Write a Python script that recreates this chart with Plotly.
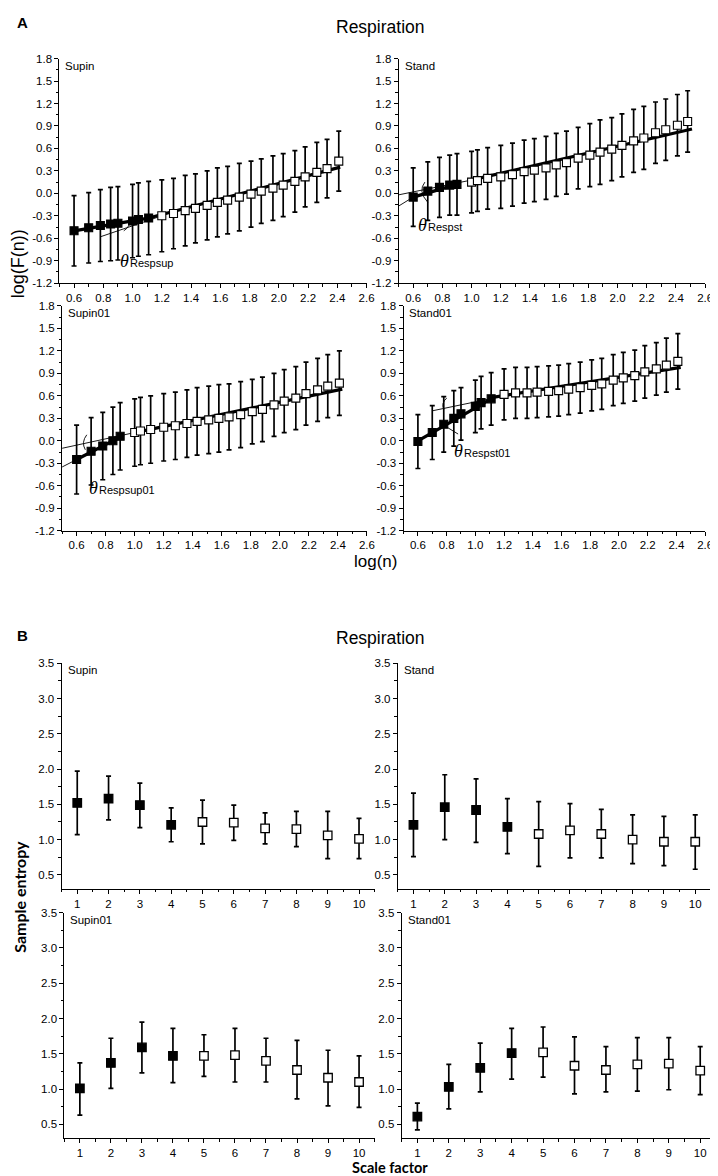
import plotly.graph_objects as go

W, H = 718, 1176

# ---------------- Panel A: DFA, log(F(n)) vs log(n) ----------------
logn = [0.60, 0.70, 0.78, 0.85, 0.90, 1.00, 1.04, 1.11, 1.20, 1.28, 1.36, 1.43, 1.51,
        1.58, 1.65, 1.73, 1.81, 1.88, 1.96, 2.03, 2.11, 2.18, 2.26, 2.33, 2.41]
logn_stand = logn + [2.48]

supin_y = [-0.50, -0.46, -0.43, -0.41, -0.40, -0.37, -0.35, -0.33, -0.30, -0.27, -0.23, -0.20, -0.16,
           -0.12, -0.09, -0.05, -0.01, 0.03, 0.07, 0.11, 0.16, 0.22, 0.28, 0.33, 0.43]
supin_e = [0.47, 0.47, 0.48, 0.49, 0.49, 0.49, 0.49, 0.49, 0.48, 0.47, 0.47, 0.46, 0.46,
           0.46, 0.45, 0.45, 0.44, 0.43, 0.43, 0.42, 0.41, 0.40, 0.40, 0.39, 0.40]
supin_nfilled = 8

stand_y = [-0.05, 0.03, 0.08, 0.11, 0.12, 0.15, 0.17, 0.20, 0.22, 0.25, 0.29, 0.31, 0.34,
           0.38, 0.41, 0.47, 0.51, 0.55, 0.59, 0.64, 0.70, 0.74, 0.81, 0.85, 0.91, 0.96]
stand_e = [0.39, 0.39, 0.40, 0.40, 0.41, 0.41, 0.41, 0.41, 0.42, 0.42, 0.42, 0.42, 0.42,
           0.42, 0.42, 0.41, 0.42, 0.43, 0.42, 0.42, 0.42, 0.42, 0.41, 0.41, 0.41, 0.41]
stand_nfilled = 5

supin01_y = [-0.25, -0.14, -0.07, 0.00, 0.06, 0.11, 0.13, 0.15, 0.18, 0.20, 0.23, 0.26, 0.28,
             0.30, 0.32, 0.35, 0.39, 0.42, 0.48, 0.53, 0.57, 0.63, 0.68, 0.73, 0.77]
supin01_e = [0.46, 0.45, 0.45, 0.45, 0.45, 0.45, 0.45, 0.45, 0.45, 0.45, 0.45, 0.45, 0.45,
             0.45, 0.44, 0.44, 0.43, 0.43, 0.42, 0.42, 0.42, 0.42, 0.42, 0.42, 0.43]
supin01_nfilled = 5

stand01_y = [-0.01, 0.11, 0.22, 0.30, 0.36, 0.46, 0.51, 0.56, 0.62, 0.64, 0.64, 0.65, 0.66,
             0.67, 0.69, 0.71, 0.74, 0.76, 0.81, 0.84, 0.87, 0.92, 0.96, 1.01, 1.06]
stand01_e = [0.36, 0.36, 0.37, 0.37, 0.35, 0.35, 0.35, 0.35, 0.34, 0.34, 0.34, 0.34, 0.34,
             0.34, 0.34, 0.34, 0.34, 0.34, 0.34, 0.34, 0.34, 0.35, 0.35, 0.36, 0.37]
stand01_nfilled = 8

# fitted scaling lines: [x_start, x_end, y_start, y_end]
supin_fit_thick = [[0.60, 1.11, -0.50, -0.33], [1.11, 2.42, -0.33, 0.35]]
supin_fit_thin = [[0.78, 1.20, -0.58, -0.30]]
stand_fit_thick = [[0.60, 0.90, -0.05, 0.12], [0.98, 2.51, 0.17, 0.86]]
stand_fit_thin = [[0.50, 0.60, -0.17, -0.05], [0.50, 0.98, -0.02, 0.17]]
supin01_fit_thick = [[0.60, 0.91, -0.25, 0.06], [1.00, 2.43, 0.11, 0.69]]
supin01_fit_thin = [[0.50, 0.60, -0.35, -0.25], [0.50, 1.00, -0.10, 0.11]]
stand01_fit_thick = [[0.60, 1.12, 0.00, 0.57], [1.12, 2.43, 0.58, 0.98]]
stand01_fit_thin = [[0.70, 1.20, 0.40, 0.60], [0.77, 0.88, 0.22, 0.09]]

a_xticks = [0.6, 0.8, 1.0, 1.2, 1.4, 1.6, 1.8, 2.0, 2.2, 2.4, 2.6]
a_xticklabels = ["0.6", "0.8", "1.0", "1.2", "1.4", "1.6", "1.8", "2.0", "2.2", "2.4", "2.6"]
a_yticks = [-1.2, -0.9, -0.6, -0.3, 0.0, 0.3, 0.6, 0.9, 1.2, 1.5, 1.8]
a_yticklabels = ["-1.2", "-0.9", "-0.6", "-0.3", "0.0", "0.3", "0.6", "0.9", "1.2", "1.5", "1.8"]

# ---------------- Panel B: sample entropy vs scale factor ----------------
scale = [1, 2, 3, 4, 5, 6, 7, 8, 9, 10]
b_supin_y = [1.52, 1.58, 1.49, 1.21, 1.25, 1.24, 1.16, 1.15, 1.06, 1.01]
b_supin_hi = [1.97, 1.90, 1.80, 1.45, 1.56, 1.49, 1.38, 1.40, 1.40, 1.30]
b_supin_lo = [1.07, 1.28, 1.17, 0.97, 0.94, 0.99, 0.94, 0.90, 0.73, 0.73]
b_stand_y = [1.21, 1.46, 1.42, 1.18, 1.08, 1.13, 1.08, 1.00, 0.97, 0.97]
b_stand_hi = [1.66, 1.92, 1.86, 1.58, 1.54, 1.51, 1.43, 1.35, 1.33, 1.35]
b_stand_lo = [0.76, 1.00, 0.96, 0.80, 0.62, 0.74, 0.74, 0.66, 0.63, 0.58]
b_supin01_y = [1.01, 1.37, 1.59, 1.47, 1.47, 1.48, 1.40, 1.27, 1.16, 1.10]
b_supin01_hi = [1.37, 1.72, 1.95, 1.86, 1.77, 1.86, 1.72, 1.69, 1.55, 1.47]
b_supin01_lo = [0.63, 1.01, 1.23, 1.09, 1.18, 1.10, 1.10, 0.86, 0.76, 0.74]
b_stand01_y = [0.61, 1.03, 1.30, 1.51, 1.52, 1.33, 1.27, 1.35, 1.36, 1.26]
b_stand01_hi = [0.80, 1.35, 1.65, 1.86, 1.88, 1.74, 1.60, 1.73, 1.73, 1.60]
b_stand01_lo = [0.42, 0.72, 0.96, 1.14, 1.17, 0.93, 0.96, 0.97, 0.99, 0.92]
b_nfilled = 4

b_xticks = [1, 2, 3, 4, 5, 6, 7, 8, 9, 10]
b_xticklabels = ["1", "2", "3", "4", "5", "6", "7", "8", "9", "10"]
b_yticks = [0.5, 1.0, 1.5, 2.0, 2.5, 3.0, 3.5]
b_yticklabels = ["0.5", "1.0", "1.5", "2.0", "2.5", "3.0", "3.5"]

FONT = "Arial, Liberation Sans, sans-serif"
fig = go.Figure()


def px_x(a, b):
    return [a / W, b / W]


def px_y(top, bottom):
    return [1 - bottom / H, 1 - top / H]


def axis_style(dom, rng, tv, tt, minor_dtick, minor_t0):
    return dict(domain=dom, range=rng, tickmode="array", tickvals=tv, ticktext=tt,
                ticks="outside", ticklen=4, tickwidth=1, tickcolor="black",
                showline=True, linecolor="black", linewidth=1, showgrid=False, zeroline=False,
                tickfont=dict(family=FONT, size=11.5, color="black"),
                minor=dict(ticks="outside", ticklen=2.5, tickwidth=1, tickcolor="black",
                           tickmode="linear", dtick=minor_dtick, tick0=minor_t0, showgrid=False),
                fixedrange=True)


axn = [0]


def add_axes(xdom, ydom, xr, yr, xtv, xtt, ytv, ytt, xminor, xm0, yminor, ym0):
    axn[0] += 1
    i = axn[0]
    sfx = "" if i == 1 else str(i)
    xs = axis_style(xdom, xr, xtv, xtt, xminor, xm0)
    ys = axis_style(ydom, yr, ytv, ytt, yminor, ym0)
    xs["anchor"] = "y" + sfx
    ys["anchor"] = "x" + sfx
    fig.update_layout(**{"xaxis" + sfx: xs, "yaxis" + sfx: ys})
    return "x" + sfx, "y" + sfx


def marker_colors(n, nfilled):
    return ["black" if k < nfilled else "white" for k in range(n)]


# ---- Panel A subplots ----
A_panels = [
    ("Supin", logn, supin_y, supin_e, supin_nfilled, supin_fit_thick, supin_fit_thin,
     (52, 362.6), (45, 272)),
    ("Stand", logn_stand, stand_y, stand_e, stand_nfilled, stand_fit_thick, stand_fit_thin,
     (395, 705), (45, 272)),
    ("Supin01", logn, supin01_y, supin01_e, supin01_nfilled, supin01_fit_thick, supin01_fit_thin,
     (54.7, 363), (295, 522)),
    ("Stand01", logn, stand01_y, stand01_e, stand01_nfilled, stand01_fit_thick, stand01_fit_thin,
     (400, 705), (295, 522)),
]

A_refs = []
for name, xs, ys, es, nf, thick, thin, xp, yp in A_panels:
    xr, yr = add_axes(px_x(*xp), px_y(*yp), [0.5, 2.6], [-1.2, 1.8],
                      a_xticks, a_xticklabels, a_yticks, a_yticklabels, 0.1, 0.5, 0.15, -1.2)
    A_refs.append((xr, yr))
    for seg in thin:
        fig.add_trace(go.Scatter(x=seg[:2], y=seg[2:], mode="lines", xaxis=xr, yaxis=yr,
                                 line=dict(color="black", width=0.9), showlegend=False, hoverinfo="skip"))
    for seg in thick:
        fig.add_trace(go.Scatter(x=seg[:2], y=seg[2:], mode="lines", xaxis=xr, yaxis=yr,
                                 line=dict(color="black", width=3.2), showlegend=False, hoverinfo="skip"))
    fig.add_trace(go.Scatter(
        x=xs, y=ys, mode="markers", xaxis=xr, yaxis=yr, showlegend=False,
        marker=dict(symbol="square", size=8, color=marker_colors(len(xs), nf),
                    line=dict(color="black", width=1.1)),
        error_y=dict(type="data", array=es, symmetric=True, color="black", thickness=1.7, width=2.5)))
    fig.add_annotation(x=(xp[0] + 4) / W, y=1 - (yp[0] - 1) / H, xref="paper", yref="paper",
                       text=name, showarrow=False, xanchor="left", yanchor="top",
                       font=dict(family=FONT, size=11.5, color="black"))

# angle marks (arc decorations) and theta labels
theta_labels = [
    ("Respsup", 0.90, -0.90),
    ("Respst", 0.62, -0.42),
    ("Respsup01", 0.67, -0.63),
    ("Respst01", 0.84, -0.13),
]
arc_paths = [
    [(0.94, -0.50), (0.99, -0.44), (0.98, -0.33)],
    [(0.68, 0.15), (0.63, 0.03), (0.70, -0.12)],
    [(0.67, 0.08), (0.63, -0.02), (0.66, -0.12)],
    [(0.80, 0.57), (0.76, 0.50), (0.78, 0.42)],
]
for (xr, yr), (sub, tx, ty), arc in zip(A_refs, theta_labels, arc_paths):
    path = f"M {arc[0][0]},{arc[0][1]} Q {arc[1][0]},{arc[1][1]} {arc[2][0]},{arc[2][1]}"
    fig.add_shape(type="path", path=path, xref=xr, yref=yr, line=dict(color="black", width=0.9))
    fig.add_annotation(x=tx, y=ty, xref=xr, yref=yr, showarrow=False, xanchor="left", yanchor="middle",
                       text="<i>θ</i>", font=dict(family="Liberation Serif, serif", size=18, color="black"))
    fig.add_annotation(x=tx, y=ty, xref=xr, yref=yr, showarrow=False, xanchor="left", yanchor="middle",
                       xshift=10, yshift=-2, text=sub, font=dict(family=FONT, size=11, color="black"))

# ---- Panel B subplots ----
B_panels = [
    ("Supin", b_supin_y, b_supin_hi, b_supin_lo, (54.2, 370.8), (656, 884)),
    ("Stand", b_stand_y, b_stand_hi, b_stand_lo, (394.2, 710.8), (656, 884)),
    ("Supin01", b_supin01_y, b_supin01_hi, b_supin01_lo, (57, 370.7), (908, 1136)),
    ("Stand01", b_stand01_y, b_stand01_hi, b_stand01_lo, (398.1, 715.9), (908, 1136)),
]
for name, ys, hi, lo, xp, yp in B_panels:
    xr, yr = add_axes(px_x(*xp), px_y(*yp), [0.5, 10.5], [0.3, 3.5],
                      b_xticks, b_xticklabels, b_yticks, b_yticklabels, 0.5, 0.5, 0.25, 0.5)
    plus = [h - m for h, m in zip(hi, ys)]
    minus = [m - l for m, l in zip(ys, lo)]
    fig.add_trace(go.Scatter(
        x=scale, y=ys, mode="markers", xaxis=xr, yaxis=yr, showlegend=False,
        marker=dict(symbol="square", size=8.5, color=marker_colors(len(scale), b_nfilled),
                    line=dict(color="black", width=1.3)),
        error_y=dict(type="data", array=plus, arrayminus=minus, symmetric=False,
                     color="black", thickness=1.7, width=2.5)))
    fig.add_annotation(x=(xp[0] + 4) / W, y=1 - (yp[0] - 1) / H, xref="paper", yref="paper",
                       text=name, showarrow=False, xanchor="left", yanchor="top",
                       font=dict(family=FONT, size=11.5, color="black"))


# ---- titles and labels ----
def ptext(text, x, y, size, bold=False, angle=0, family=FONT, xanchor="center"):
    fig.add_annotation(x=x / W, y=1 - y / H, xref="paper", yref="paper", text=text, showarrow=False,
                       xanchor=xanchor, yanchor="middle", textangle=angle, borderpad=0,
                       font=dict(family=family, size=size, color="black",
                                 weight="bold" if bold else "normal"))


ptext("A", 8, 9, 15, bold=True, xanchor="left")
ptext("Respiration", 377, 13, 17.5)
ptext("log(F(n))", 11, 252, 18, angle=-90)
ptext("log(n)", 372, 553, 17)
ptext("B", 8, 628, 15, bold=True, xanchor="left")
ptext("Respiration", 377, 630, 17.5)
ptext("Sample entropy", 12, 892, 16, bold=True, angle=-90, family="Lato, Arial, sans-serif")
ptext("Scale factor", 386, 1165, 14.5, bold=True, family="Lato, Arial, sans-serif")

fig.update_layout(width=W, height=H, margin=dict(l=0, r=0, t=0, b=0),
                  plot_bgcolor="white", paper_bgcolor="white", showlegend=False)

fig.write_html("out.html")
